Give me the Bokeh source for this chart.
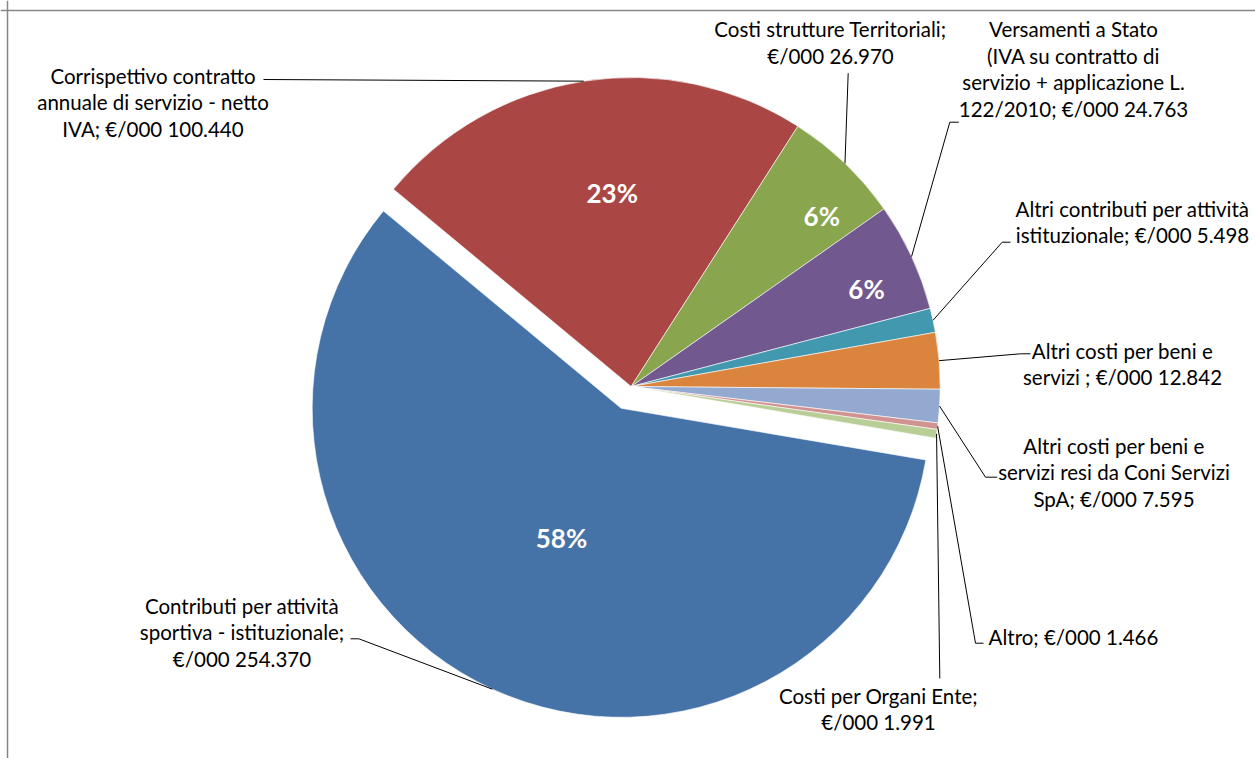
import math
from bokeh.plotting import figure
from bokeh.models import Range1d, Span, ColumnDataSource
from bokeh.core.properties import value
from bokeh.embed import file_html
from bokeh.resources import INLINE

# ---------------- data ----------------
categories = [
    "Contributi per attività\nsportiva - istituzionale",
    "Corrispettivo contratto\nannuale di servizio - netto\nIVA",
    "Costi strutture Territoriali",
    "Versamenti a Stato\n(IVA su contratto di\nservizio + applicazione L.\n122/2010",
    "Altri contributi per attività\nistituzionale",
    "Altri costi per beni e\nservizi ",
    "Altri costi per beni e\nservizi resi da Coni Servizi\nSpA",
    "Altro",
    "Costi per Organi Ente",
]
values = [254370, 100440, 26970, 24763, 5498, 12842, 7595, 1466, 1991]
unit_prefix = "€/000"

# ---------------- style / layout ----------------
colors = ["#4572A7", "#AA4643", "#89A54E", "#71588F", "#4198AF",
          "#DB843D", "#93A9CF", "#D19392", "#B9CD96"]
separators = [";\n", "; ", ";\n", "; ", "; ", "; ", "; ", "; ", ";\n"]
explode = [24, 0, 0, 0, 0, 0, 0, 0, 0]

W, H = 1255, 758


def px(ix):
    return ix


def py(iy):
    return H - iy


CX, CY = px(630.7), py(386)
R = 309
START = 99.63  # first slice angle, degrees clockwise from 12 o'clock

# label anchor (centre x, first line y) in page pixels
label_pos = [(241.5, 605), (152.5, 75), (830, 28.3), (1073, 28.3),
             (1132, 208), (1122, 350), (1113.5, 445), (1073, 636.7), (878, 695)]
LINE_STEP = 26.8
# leader line points from slice edge towards the label (page pixels)
leader_pts = [
    [(358.3, 638.3), (350, 638.3)],
    [(263, 79)],
    [(847.7, 72.7)],
    [(949.3, 121.7), (958.3, 121.7)],
    [(1001.7, 241.7), (1010, 241.7)],
    [(1020, 353.3), (1030, 353.3)],
    [(985, 476.7), (996.7, 476.7)],
    [(975, 642.7), (983, 642.7)],
    [(939.3, 678)],
]
pct_pos = {0: (561, 537), 1: (611.7, 192.3), 2: (821.3, 215), 3: (866, 288.3)}

LABEL_FONT = "Lato"

# ---------------- figure ----------------
p = figure(width=W, height=H, x_range=Range1d(0, W), y_range=Range1d(0, H),
           output_backend="svg", toolbar_location=None, min_border=0,
           x_axis_location=None, y_axis_location=None,
           outline_line_color=None, background_fill_color="white")
p.grid.visible = False

total = float(sum(values))
wx, wy, ws, we, wc = [], [], [], [], []
lx, ly = [], []
tx, ty, tt = [], [], []
ptx, pty, ptt = [], [], []

acc = START
for i, v in enumerate(values):
    span = v / total * 360.0
    c0, c1 = acc, acc + span
    acc = c1
    mid = (c0 + c1) / 2.0
    mr = math.radians(90 - mid)
    ox = CX + explode[i] * math.cos(mr)
    oy = CY + explode[i] * math.sin(mr)
    wx.append(ox)
    wy.append(oy)
    ws.append(math.radians(90 - c1))
    we.append(math.radians(90 - c0))
    wc.append(colors[i])

    # leader line
    ax = ox + R * math.cos(mr)
    ay = oy + R * math.sin(mr)
    xs = [ax] + [px(a) for a, b in leader_pts[i]]
    ys = [ay] + [py(b) for a, b in leader_pts[i]]
    lx.append(xs)
    ly.append(ys)

    # category label
    full = categories[i] + separators[i] + unit_prefix + " " + f"{v:,}".replace(",", ".")
    cx, y0 = label_pos[i]
    for j, line in enumerate(full.split("\n")):
        tx.append(px(cx))
        ty.append(py(y0 + j * LINE_STEP))
        tt.append(line)

    # percentage label
    pct = v / total * 100
    if i in pct_pos:
        ptx.append(px(pct_pos[i][0]))
        pty.append(py(pct_pos[i][1]))
        ptt.append(f"{round(pct):d}%")

p.wedge(x="x", y="y", radius=R, start_angle="s", end_angle="e",
        direction="anticlock", fill_color="c", line_color="white", line_width=0.6,
        source=ColumnDataSource(dict(x=wx, y=wy, s=ws, e=we, c=wc)))

p.multi_line(xs=lx, ys=ly, line_color="black", line_width=1)

p.text(x="x", y="y", text="t", source=ColumnDataSource(dict(x=tx, y=ty, t=tt)),
       text_font=value(LABEL_FONT), text_font_size=value("20.5px"),
       text_align="center", text_baseline="middle", text_color="black")

p.text(x="x", y="y", text="t", source=ColumnDataSource(dict(x=ptx, y=pty, t=ptt)),
       text_font=value(LABEL_FONT), text_font_size=value("26px"), text_font_style="bold",
       text_align="center", text_baseline="middle", text_color="white")

# chart-area border (left and top edges visible)
p.add_layout(Span(location=px(7), dimension="height", line_color="#878787", line_width=1.5))
p.add_layout(Span(location=py(10), dimension="width", line_color="#878787", line_width=1.5))

open("out.html", "w").write(file_html(p, INLINE))
